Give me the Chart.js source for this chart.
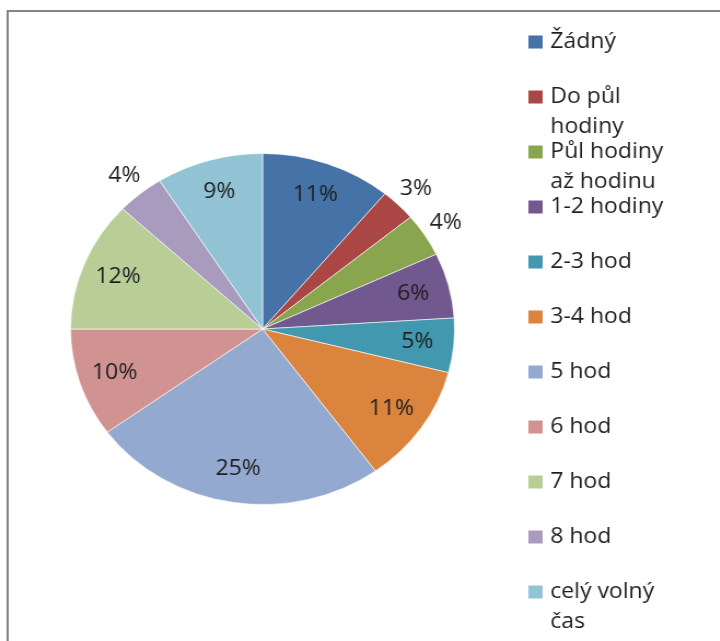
<!DOCTYPE html>
<html>
<head>
<meta charset="utf-8">
<script src="https://cdn.jsdelivr.net/npm/chart.js@4/dist/chart.umd.min.js"></script>
<style>
  html, body { margin: 0; padding: 0; background: #fff; overflow: hidden; }
  #wrap { width: 720px; height: 641px; overflow: hidden; }
  /* le graphique d'origine est étiré horizontalement */
  #pie { transform: scaleX(1.094); transform-origin: 0 0; display: block; }
</style>
</head>
<body>
<div id="wrap"><canvas id="pie" width="658" height="641"></canvas></div>
<script>
// Données du graphique
const categories = [
  'Žádný', ['Do půl', 'hodiny'], ['Půl hodiny', 'až hodinu'], '1-2 hodiny', '2-3 hod',
  '3-4 hod', '5 hod', '6 hod', '7 hod', '8 hod', ['celý volný', 'čas']
];
const percentValues = [11, 3, 4, 6, 5, 11, 25, 10, 12, 4, 9];
const sliceColors = [
  '#4572A7', '#AA4643', '#89A54E', '#71588F', '#4198AF',
  '#DB843D', '#93A9CF', '#D19392', '#B9CD96', '#A99BBD', '#92C3D4'
];

const FONT = '21px "Open Sans", "Liberation Sans", sans-serif';
const TEXT_COLOR = '#1e1e1e';

// Cadre gris (haut et gauche visibles)
const framePlugin = {
  id: 'frame',
  beforeDraw(chart) {
    const ctx = chart.ctx;
    ctx.save();
    ctx.strokeStyle = '#858585';
    ctx.lineWidth = 2;
    ctx.strokeRect(7, 11, 700, 700);
    ctx.restore();
  }
};

// Étiquettes de pourcentage sur/à côté des parts
const sliceLabels = {
  id: 'sliceLabels',
  afterDatasetsDraw(chart) {
    const ctx = chart.ctx;
    const meta = chart.getDatasetMeta(0);
    const values = chart.data.datasets[0].data;
    ctx.save();
    ctx.font = FONT;
    ctx.fillStyle = TEXT_COLOR;
    ctx.textAlign = 'center';
    ctx.textBaseline = 'middle';
    meta.data.forEach((arc, i) => {
      const p = arc.getProps(['x', 'y', 'startAngle', 'endAngle', 'outerRadius'], true);
      const mid = (p.startAngle + p.endAngle) / 2;
      const r = values[i] < 5 ? p.outerRadius * 1.13 : p.outerRadius * 0.81;
      ctx.fillText(values[i] + '%', p.x + Math.cos(mid) * r, p.y + Math.sin(mid) * r);
    });
    ctx.restore();
  }
};

// Légende à droite (avec retour à la ligne)
const sideLegend = {
  id: 'sideLegend',
  afterDraw(chart) {
    const ctx = chart.ctx;
    const labels = chart.data.labels;
    const colors = chart.data.datasets[0].backgroundColor;
    const boxX = 483, textX = 503, firstY = 42, step = 55, lineH = 30;
    ctx.save();
    ctx.font = FONT;
    ctx.textBaseline = 'middle';
    labels.forEach((lab, i) => {
      const y = firstY + i * step;
      ctx.fillStyle = colors[i];
      ctx.fillRect(boxX, y - 6.5, 13, 13);
      ctx.fillStyle = TEXT_COLOR;
      const lines = Array.isArray(lab) ? lab : [lab];
      lines.forEach((l, j) => ctx.fillText(l, textX, y + j * lineH));
    });
    ctx.restore();
  }
};

new Chart(document.getElementById('pie'), {
  type: 'pie',
  data: {
    labels: categories,
    datasets: [{
      data: percentValues,
      backgroundColor: sliceColors,
      borderColor: 'rgba(255,255,255,0.6)',
      borderWidth: 1
    }]
  },
  options: {
    responsive: false,
    animation: false,
    layout: { padding: { left: 64, top: 153, right: 242, bottom: 136 } },
    plugins: {
      legend: { display: false },
      tooltip: { enabled: true }
    }
  },
  plugins: [framePlugin, sliceLabels, sideLegend]
});
</script>
</body>
</html>
